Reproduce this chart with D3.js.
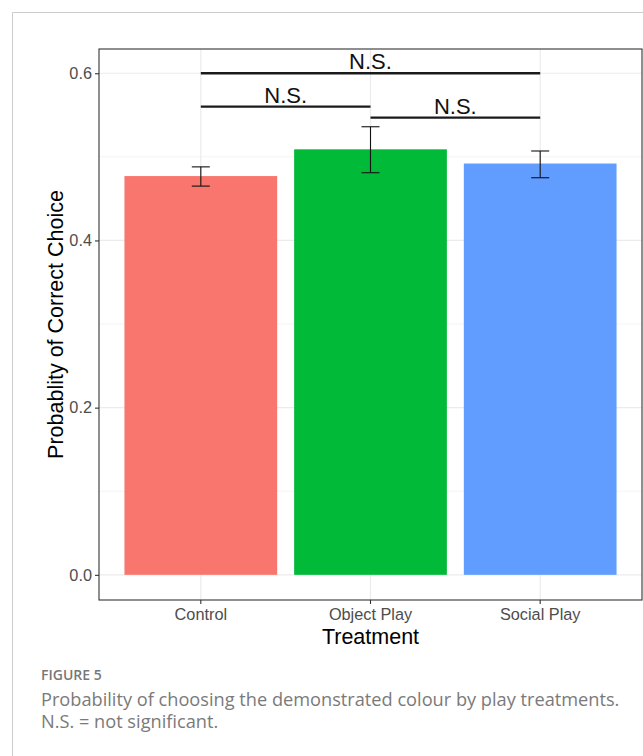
<!DOCTYPE html>
<html>
<head>
<meta charset="utf-8">
<script src="https://cdn.jsdelivr.net/npm/d3@7"></script>
<style>
  body { margin: 0; background: #fff; }
  svg { display: block; }
</style>
</head>
<body>
<div id="chart"></div>
<script>
// data
const categories = ["Control", "Object Play", "Social Play"];
const means = [0.477, 0.509, 0.492];
const lowerCI = [0.465, 0.481, 0.475];
const upperCI = [0.488, 0.536, 0.507];
const barColors = ["#F8766D", "#00BA38", "#619CFF"];
const yTicks = [0.0, 0.2, 0.4, 0.6];
const yMinor = [0.1, 0.3, 0.5];

// significance brackets
const sigFrom = ["Control", "Control", "Object Play"];
const sigTo = ["Social Play", "Object Play", "Social Play"];
const sigY = [0.600, 0.560, 0.547];
const sigLabel = ["N.S.", "N.S.", "N.S."];

const W = 643, H = 756;
const panel = { left: 99, right: 642, top: 49, bottom: 600 };

const svg = d3.select("#chart").append("svg").attr("width", W).attr("height", H);

// outer frame of the figure box
svg.append("path")
  .attr("d", `M12.5,${H} V12.5 H${W}`)
  .attr("fill", "none")
  .attr("stroke", "#cccccc")
  .attr("stroke-width", 1);

const x = d3.scaleBand()
  .domain(categories)
  .range([panel.left, panel.right])
  .paddingInner(0.1)
  .paddingOuter(0.15);

const y = d3.scaleLinear()
  .domain([-0.0301, 0.629])
  .range([panel.bottom, panel.top]);

const cx = (c) => x(c) + x.bandwidth() / 2;

// grid
const grid = svg.append("g");
grid.selectAll(".minor")
  .data(yMinor)
  .join("line")
  .attr("x1", panel.left).attr("x2", panel.right)
  .attr("y1", (d) => y(d)).attr("y2", (d) => y(d))
  .attr("stroke", "#f4f4f4").attr("stroke-width", 1);
grid.selectAll(".major")
  .data(yTicks)
  .join("line")
  .attr("x1", panel.left).attr("x2", panel.right)
  .attr("y1", (d) => y(d)).attr("y2", (d) => y(d))
  .attr("stroke", "#ebebeb").attr("stroke-width", 1.2);
grid.selectAll(".vmajor")
  .data(categories)
  .join("line")
  .attr("x1", (d) => cx(d)).attr("x2", (d) => cx(d))
  .attr("y1", panel.top).attr("y2", panel.bottom)
  .attr("stroke", "#ebebeb").attr("stroke-width", 1.2);

// bars
svg.selectAll(".bar")
  .data(categories)
  .join("rect")
  .attr("class", "bar")
  .attr("x", (d) => x(d))
  .attr("width", x.bandwidth())
  .attr("y", (d, i) => y(means[i]))
  .attr("height", (d, i) => y(0) - y(means[i]))
  .attr("fill", (d, i) => barColors[i]);

// error bars
const eb = svg.append("g").attr("stroke", "#111").attr("stroke-width", 1.1);
categories.forEach((c, i) => {
  const xc = cx(c);
  eb.append("line").attr("x1", xc).attr("x2", xc).attr("y1", y(lowerCI[i])).attr("y2", y(upperCI[i]));
  eb.append("line").attr("x1", xc - 9).attr("x2", xc + 9).attr("y1", y(lowerCI[i])).attr("y2", y(lowerCI[i]));
  eb.append("line").attr("x1", xc - 9).attr("x2", xc + 9).attr("y1", y(upperCI[i])).attr("y2", y(upperCI[i]));
});

// significance brackets
const sig = svg.append("g");
sigY.forEach((v, i) => {
  const x1 = cx(sigFrom[i]), x2 = cx(sigTo[i]);
  sig.append("line")
    .attr("x1", x1).attr("x2", x2)
    .attr("y1", y(v)).attr("y2", y(v))
    .attr("stroke", "#1a1a1a").attr("stroke-width", 2.3);
  sig.append("text")
    .attr("x", (x1 + x2) / 2)
    .attr("y", y(v) - 4)
    .attr("text-anchor", "middle")
    .attr("font-family", "Liberation Sans, Arial, sans-serif")
    .attr("font-size", 22)
    .attr("fill", "#111")
    .text(sigLabel[i]);
});

// panel border
svg.append("rect")
  .attr("x", panel.left).attr("y", panel.top)
  .attr("width", panel.right - panel.left).attr("height", panel.bottom - panel.top)
  .attr("fill", "none").attr("stroke", "#333").attr("stroke-width", 1.1);

// axes
const xAxis = svg.append("g")
  .attr("transform", `translate(0,${panel.bottom})`)
  .call(d3.axisBottom(x).tickSize(4).tickPadding(4));
const yAxis = svg.append("g")
  .attr("transform", `translate(${panel.left},0)`)
  .call(d3.axisLeft(y).tickValues(yTicks).tickFormat(d3.format(".1f")).tickSize(4).tickPadding(3));

[xAxis, yAxis].forEach((a) => {
  a.select(".domain").remove();
  a.selectAll(".tick line").attr("stroke", "#333").attr("stroke-width", 1.1);
  a.selectAll(".tick text")
    .attr("font-family", "Liberation Sans, Arial, sans-serif")
    .attr("font-size", 16.3)
    .attr("fill", "#4d4d4d");
});

// axis titles
svg.append("text")
  .attr("x", (panel.left + panel.right) / 2)
  .attr("y", 644)
  .attr("text-anchor", "middle")
  .attr("font-family", "Liberation Sans, Arial, sans-serif")
  .attr("font-size", 21.5)
  .attr("fill", "#000")
  .text("Treatment");

svg.append("text")
  .attr("transform", `translate(63,${(panel.top + panel.bottom) / 2}) rotate(-90)`)
  .attr("text-anchor", "middle")
  .attr("font-family", "Liberation Sans, Arial, sans-serif")
  .attr("font-size", 21.5)
  .attr("fill", "#000")
  .text("Probablity of Correct Choice");

// caption
svg.append("text")
  .attr("x", 41).attr("y", 680)
  .attr("font-family", "Open Sans, sans-serif")
  .attr("font-size", 14)
  .attr("font-weight", 600)
  .attr("fill", "#777")
  .text("FIGURE 5");

const cap = svg.append("text")
  .attr("font-family", "Open Sans, sans-serif")
  .attr("font-size", 18.2)
  .attr("fill", "#7a7a7a");
cap.append("tspan").attr("x", 41).attr("y", 706)
  .text("Probability of choosing the demonstrated colour by play treatments.");
cap.append("tspan").attr("x", 41).attr("y", 728)
  .text("N.S. = not significant.");
</script>
</body>
</html>
